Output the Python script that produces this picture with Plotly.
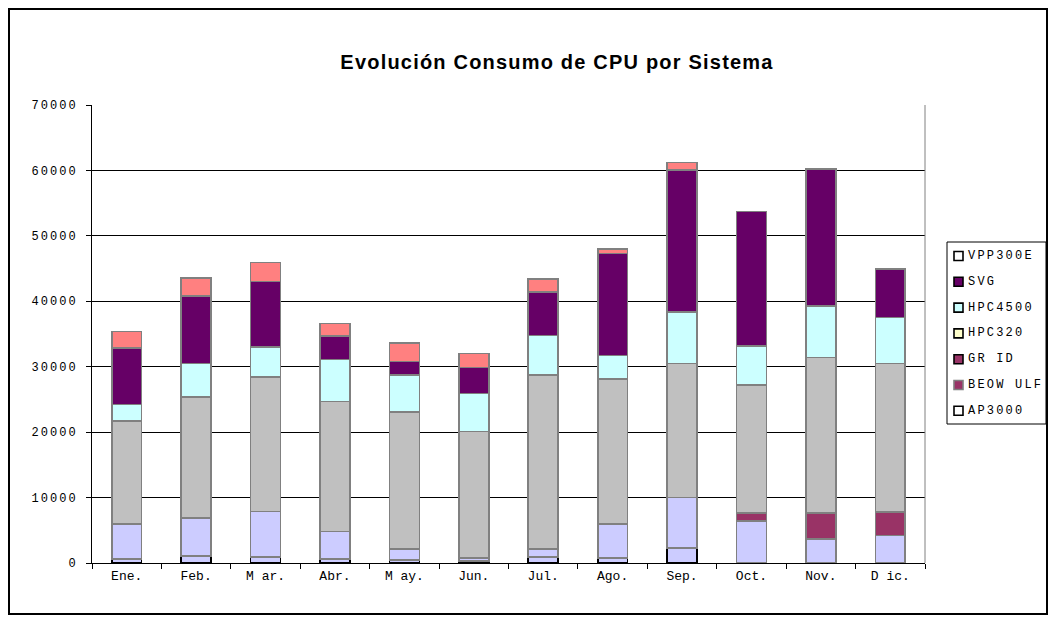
import plotly.graph_objects as go

months = ["Ene.", "Feb.", "M ar.", "Abr.", "M ay.", "Jun.", "Jul.", "Ago.", "Sep.", "Oct.", "Nov.", "D ic."]

# stacked series, bottom to top
ap3000   = [600, 1100, 900, 600, 500, 300, 900, 800, 2300, 0, 0, 0]
serie_2  = [5400, 5800, 7000, 4200, 1600, 500, 1200, 5200, 7700, 6400, 3700, 4200]
beowulf  = [0, 0, 0, 0, 0, 0, 0, 0, 0, 1200, 3900, 3600]
grid     = [0, 0, 0, 0, 0, 0, 0, 0, 0, 0, 0, 0]
serie_5  = [15700, 18500, 20500, 19900, 21000, 19300, 26600, 22100, 20500, 19600, 23800, 22700]
hpc320   = [0, 0, 0, 0, 0, 0, 0, 0, 0, 0, 0, 0]
hpc4500  = [2500, 5100, 4600, 6400, 5600, 5800, 6100, 3600, 7900, 6000, 7900, 7000]
svg      = [8700, 10300, 10000, 3600, 2100, 4000, 6600, 15600, 21700, 20500, 20900, 7400]
serie_9  = [2500, 2800, 2900, 1900, 2800, 2100, 2000, 700, 1100, 0, 0, 0]
vpp300e  = [0, 0, 0, 0, 0, 0, 0, 0, 0, 0, 0, 0]

y_ticks = [0, 10000, 20000, 30000, 40000, 50000, 60000, 70000]
y_tick_labels = ["0", "10000", "20000", "30000", "40000", "50000", "60000", "70000"]

title = "Evolución Consumo de CPU por Sistema"

stack = [
    ("AP3000", ap3000, "#CCCCFF", "#000000"),
    ("Serie 2", serie_2, "#CCCCFF", "#808080"),
    ("BEOWULF", beowulf, "#993366", "#808080"),
    ("GRID", grid, "#993366", "#808080"),
    ("Serie 5", serie_5, "#C0C0C0", "#808080"),
    ("HPC320", hpc320, "#FFFFCC", "#808080"),
    ("HPC4500", hpc4500, "#CCFFFF", "#808080"),
    ("SVG", svg, "#660066", "#808080"),
    ("Serie 9", serie_9, "#FF8080", "#808080"),
    ("VPP300E", vpp300e, "#FFFFFF", "#000000"),
]

legend_items = [
    ("VPP300E", "#FFFFFF", "#000000"),
    ("SVG", "#660066", "#000000"),
    ("HPC4500", "#CCFFFF", "#000000"),
    ("HPC320", "#FFFFCC", "#000000"),
    ("GR ID", "#993366", "#000000"),
    ("BEOW ULF", "#993366", "#808080"),
    ("AP3000", "#FFFFFF", "#000000"),
]

fig = go.Figure()
for name, vals, color, line in stack:
    fig.add_trace(go.Bar(
        x=months, y=[v if v else None for v in vals], name=name,
        marker=dict(color=color, line=dict(color=line, width=1.6)),
        showlegend=False,
    ))

# screen pixel -> paper coordinates (plot area: x 92..925, y 105..563 on screen)
def px(X):
    return (X - 92) / 833

def py(Y):
    return (563 - Y) / 458

shapes = [
    dict(type="line", xref="paper", yref="paper", x0=1, x1=1, y0=0, y1=1,
         line=dict(color="#808080", width=1)),
    dict(type="rect", xref="paper", yref="paper",
         x0=px(9), x1=px(1047), y0=py(614), y1=py(9),
         line=dict(color="black", width=2), fillcolor="rgba(0,0,0,0)", layer="below"),
    dict(type="rect", xref="paper", yref="paper",
         x0=px(947), x1=px(1046), y0=py(424), y1=py(242),
         line=dict(color="black", width=1), fillcolor="white", layer="below"),
]
annotations = []
for i, (name, color, line) in enumerate(legend_items):
    yc = 256 + i * 25.8
    shapes.append(dict(type="rect", xref="paper", yref="paper",
                       x0=px(954), x1=px(963), y0=py(yc + 4.5), y1=py(yc - 4.5),
                       line=dict(color=line, width=1.6), fillcolor=color))
    annotations.append(dict(xref="paper", yref="paper", x=px(966), y=py(yc),
                            xanchor="left", yanchor="middle", showarrow=False,
                            text=f'<span style="letter-spacing:2.2px">{name}</span>',
                            font=dict(family="Liberation Mono", size=12, color="black")))

fig.update_layout(
    width=1040, height=607,
    barmode="stack", bargap=0.57,
    paper_bgcolor="white", plot_bgcolor="white",
    margin=dict(l=84, r=123, t=97, b=52),
    showlegend=False,
    title=dict(text=f'<b><span style="letter-spacing:1.2px">{title}</span></b>',
               x=(557 - 8) / 1040, xref="container", xanchor="center",
               y=1 - (62 - 8) / 607, yanchor="middle",
               font=dict(family="Liberation Sans", size=20, color="black")),
    font=dict(family="Liberation Mono", size=12, color="black"),
    xaxis=dict(showline=True, linecolor="black", linewidth=1, ticks="outside",
               tickson="boundaries", ticklen=5, tickcolor="black",
               tickfont=dict(family="Liberation Mono", size=13)),
    yaxis=dict(range=[0, 70000], tickvals=y_ticks,
               ticktext=[f'<span style="letter-spacing:2px">{t}</span>' for t in y_tick_labels],
               showgrid=True, gridcolor="black",
               gridwidth=1, showline=True, linecolor="black", linewidth=1,
               ticks="outside", ticklen=5, tickcolor="black", zeroline=False,
               ticklabelstandoff=6,
               tickfont=dict(family="Liberation Mono", size=12)),
    shapes=shapes,
    annotations=annotations,
)

fig.write_html("out.html")
